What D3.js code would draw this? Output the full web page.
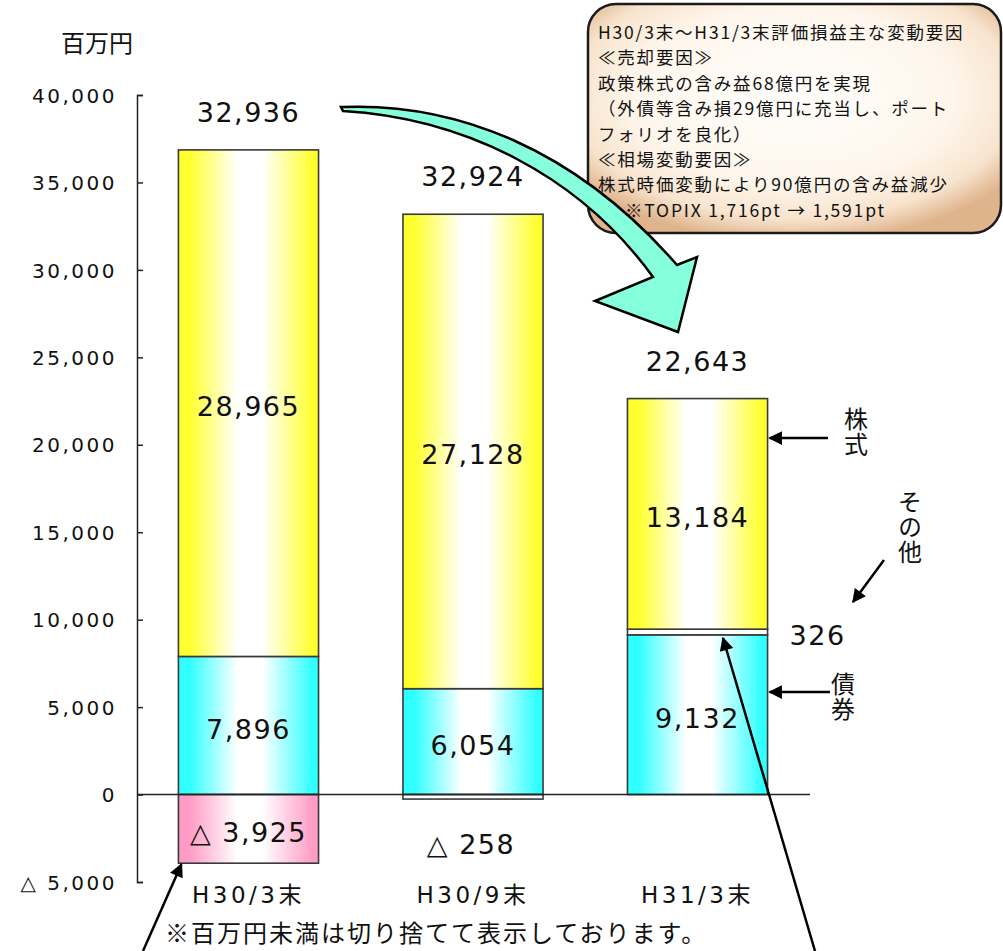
<!DOCTYPE html>
<html>
<head>
<meta charset="utf-8">
<script src="https://cdn.jsdelivr.net/npm/d3@7"></script>
<style>
  html, body { margin: 0; padding: 0; background: #fff; }
  svg { display: block; }
</style>
</head>
<body>
<div id="chart"></div>
<script>
// ---------- data ----------
const categories = ["H30/3末", "H30/9末", "H31/3末"];
const stocks = [28965, 27128, 13184];   // 株式
const bonds  = [7896, 6054, 9132];      // 債券
const others = [-3925, -258, 326];      // その他
const totals = [32936, 32924, 22643];
const yTicks = [-5000, 0, 5000, 10000, 15000, 20000, 25000, 30000, 35000, 40000];
const yUnit = "百万円";
const footnote = "※百万円未満は切り捨てて表示しております。";
const boxLines = [
  "H30/3末～H31/3末評価損益主な変動要因",
  "≪売却要因≫",
  "政策株式の含み益68億円を実現",
  "（外債等含み損29億円に充当し、ポート",
  "フォリオを良化）",
  "≪相場変動要因≫",
  "株式時価変動により90億円の含み益減少",
  "※TOPIX 1,716pt → 1,591pt"
];
const boxIndent = [0, 0, 0, 0, 0, 0, 0, 27];
const seriesKeys = ["bonds", "others", "stocks"];
const seriesNames = { stocks: "株式", bonds: "債券", others: "その他" };

// ---------- setup ----------
const W = 1003, H = 951;
const JP = "'Noto Sans CJK JP', sans-serif";
const NUM = "'DejaVu Sans', 'Noto Sans CJK JP', sans-serif";

const svg = d3.select("#chart").append("svg").attr("width", W).attr("height", H);
svg.append("rect").attr("width", W).attr("height", H).attr("fill", "#fff");

const defs = svg.append("defs");
function hGrad(id, c) {
  const g = defs.append("linearGradient").attr("id", id).attr("x1", "0%").attr("x2", "100%").attr("y1", "0%").attr("y2", "0%");
  [[0, c], [0.08, c], [0.42, "#ffffff"], [0.6, "#ffffff"], [0.96, c], [1, c]].forEach(([o, col]) =>
    g.append("stop").attr("offset", o).attr("stop-color", col));
}
hGrad("gStocks", "#ffff2e");
hGrad("gBonds", "#30ffff");
hGrad("gOthersNeg", "#ff9cc5");

const bg = defs.append("radialGradient").attr("id", "gBox").attr("cx", "50%").attr("cy", "40%").attr("r", "64%");
[[0, "#fffefc"], [0.6, "#fef6ec"], [0.84, "#f8e4ce"], [1, "#dfb48c"]].forEach(([o, c]) =>
  bg.append("stop").attr("offset", o).attr("stop-color", c));

defs.append("marker").attr("id", "ah").attr("viewBox", "0 0 10 10").attr("refX", 9).attr("refY", 5)
  .attr("markerWidth", 6).attr("markerHeight", 5.5).attr("markerUnits", "strokeWidth").attr("orient", "auto")
  .append("path").attr("d", "M0,0 L10,5 L0,10 Z").attr("fill", "#000");

// ---------- scales ----------
const y = d3.scaleLinear().domain([-5000, 40000]).range([882, 95]);
const x = d3.scaleBand().domain(categories).range([136, 810]).paddingInner(0.376).paddingOuter(0.189);

const fmt = d3.format(",");
const lab = v => v < 0 ? "△ " + fmt(-v) : fmt(v);

// ---------- axis ----------
const axis = d3.axisLeft(y).tickValues(yTicks).tickSizeInner(-6).tickSizeOuter(-6).tickPadding(20).tickFormat(lab);
const gAxis = svg.append("g").attr("transform", "translate(137,0)").call(axis);
gAxis.select(".domain").attr("stroke", "#222").attr("stroke-width", 1.5);
gAxis.selectAll(".tick line").attr("stroke", "#222").attr("stroke-width", 1.5);
gAxis.selectAll(".tick text").attr("font-family", NUM).attr("font-size", 20).attr("letter-spacing", 2.5)
  .attr("fill", "#111").attr("dy", "0.36em");

svg.append("text").attr("x", 97).attr("y", 52).attr("text-anchor", "middle")
  .attr("font-family", JP).attr("font-size", 24).attr("fill", "#111").text(yUnit);

// ---------- stacked bars ----------
const rows = categories.map((c, i) => ({ cat: c, stocks: stocks[i], bonds: bonds[i], others: others[i] }));
const stack = d3.stack().keys(seriesKeys).offset(d3.stackOffsetDiverging);
const series = stack(rows);

const fillFor = (key, v) => key === "stocks" ? "url(#gStocks)" : key === "bonds" ? "url(#gBonds)" :
  (v < -1000 ? "url(#gOthersNeg)" : "#ffffff");

const gBars = svg.append("g");
series.forEach(s => {
  gBars.selectAll(null).data(s).enter().append("rect")
    .attr("x", d => x(d.data.cat))
    .attr("width", x.bandwidth())
    .attr("y", d => y(Math.max(d[0], d[1])))
    .attr("height", d => Math.abs(y(d[0]) - y(d[1])))
    .attr("fill", d => fillFor(s.key, d.data[s.key]))
    .attr("stroke", "#3a3a3a").attr("stroke-width", 1.6);
});

// zero line
svg.append("line").attr("x1", 137).attr("x2", 810).attr("y1", y(0)).attr("y2", y(0))
  .attr("stroke", "#222").attr("stroke-width", 1.6);

// segment labels
series.forEach(s => {
  s.forEach(d => {
    const v = d.data[s.key];
    const cx = x(d.data.cat) + x.bandwidth() / 2;
    const mid = (y(d[0]) + y(d[1])) / 2;
    let tx = cx, ty = mid + 13;
    if (Math.abs(v) < 1000) {
      if (v < 0) { tx = cx - 2; ty = y(d[0]) + 55; }
      else { tx = x(d.data.cat) + x.bandwidth() + 50; }
    }
    svg.append("text").attr("x", tx).attr("y", ty).attr("text-anchor", "middle")
      .attr("font-family", NUM).attr("font-size", 27).attr("letter-spacing", 1.5).attr("fill", "#111")
      .text(lab(v));
  });
});

// total labels
const tops = categories.map((c, i) => d3.max(series, s => s[i][1]));
categories.forEach((c, i) => {
  svg.append("text").attr("x", x(c) + x.bandwidth() / 2).attr("y", y(tops[i]) - 28).attr("text-anchor", "middle")
    .attr("font-family", NUM).attr("font-size", 27).attr("letter-spacing", 1.5).attr("fill", "#111")
    .text(fmt(totals[i]));
});

// category labels
categories.forEach(c => {
  svg.append("text").attr("x", x(c) + x.bandwidth() / 2).attr("y", 903).attr("text-anchor", "middle")
    .attr("font-family", NUM).attr("font-size", 23).attr("letter-spacing", 3.5).attr("fill", "#111").text(c);
});

// footnote
svg.append("text").attr("x", 165).attr("y", 942).attr("font-family", JP).attr("font-size", 24)
  .attr("letter-spacing", 2).attr("fill", "#111").text(footnote);

// ---------- callout box ----------
svg.append("rect").attr("x", 588).attr("y", 4).attr("width", 413).attr("height", 229).attr("rx", 28)
  .attr("fill", "url(#gBox)").attr("stroke", "#1a1a1a").attr("stroke-width", 2.5);
boxLines.forEach((t, i) => {
  svg.append("text").attr("x", 598 + boxIndent[i]).attr("y", 39 + i * 25.4).attr("font-family", JP)
    .attr("font-size", 17.5).attr("letter-spacing", 1.8).attr("fill", "#111").text(t);
});

// ---------- big curved arrow ----------
svg.append("path")
  .attr("d", "M341,107 C455,102 575,148 677,265 L697,257 L678,332 L595,301 L653,277 C580,176 465,118 343,111 Z")
  .attr("fill", "#86ffdc").attr("stroke", "#000").attr("stroke-width", 2.5).attr("stroke-linejoin", "miter");

// ---------- series annotations ----------
const i3 = categories.length - 1;
const barRight = x(categories[i3]) + x.bandwidth();
function vText(chars, cx, yTop) {
  svg.append("text").attr("x", cx).attr("y", yTop)
    .style("writing-mode", "vertical-rl").attr("text-anchor", "start")
    .attr("font-family", JP).attr("font-size", 24).attr("letter-spacing", 1).attr("fill", "#111").text(chars);
}
function arrow(x1, y1, x2, y2) {
  svg.append("line").attr("x1", x1).attr("y1", y1).attr("x2", x2).attr("y2", y2)
    .attr("stroke", "#000").attr("stroke-width", 2.5).attr("marker-end", "url(#ah)");
}
// 株式
vText(seriesNames.stocks, 856, 407);
arrow(828, 438, barRight + 2, 438);
// その他
vText(seriesNames.others, 910, 490);
arrow(884, 560, 853, 602);
// 債券
vText(seriesNames.bonds, 843, 672);
arrow(830, 692, barRight + 2, 692);
// long arrows
arrow(815, 951, 723, 638);
arrow(143, 951, x(categories[0]) + 3, y(others[0]) + 1);
</script>
</body>
</html>
